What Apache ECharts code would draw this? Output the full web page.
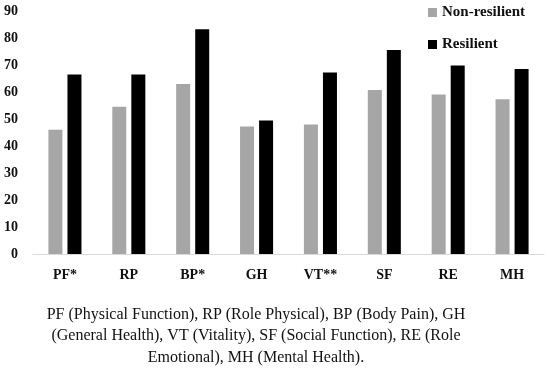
<!DOCTYPE html>
<html><head><meta charset="utf-8">
<script src="https://cdn.jsdelivr.net/npm/echarts@6/dist/echarts.min.js"></script>
<style>html,body{margin:0;padding:0;background:#fff}#c{width:550px;height:370px}</style>
</head><body><div id="c"></div>
<script>
const categories = ['PF*','RP','BP*','GH','VT**','SF','RE','MH'];
const nonResilient = [46, 54.5, 63, 47.2, 48, 60.7, 59.1, 57.3];
const resilient = [66.5, 66.5, 83.2, 49.4, 67.2, 75.6, 69.8, 68.5];
const seriesNames = ['Non-resilient','Resilient'];
const caption = 'PF (Physical Function), RP (Role Physical), BP (Body Pain), GH\n(General Health), VT (Vitality), SF (Social Function), RE (Role\nEmotional), MH (Mental Health).';
const font = '"Liberation Serif", "DejaVu Serif", serif';
const chart = echarts.init(document.getElementById('c'));
chart.setOption({
  animation:false,
  graphic:[{type:'text',x:256,y:304,style:{text:caption,textAlign:'center',textVerticalAlign:'top',
    fontFamily:font,fontSize:16,fontWeight:'normal',fill:'#111',lineHeight:21.5}}],
  legend:{orient:'vertical',left:423,top:0,itemWidth:9,itemHeight:9,itemGap:17,icon:'rect',
    textStyle:{fontFamily:font,fontWeight:'bold',fontSize:15,color:'#111'}},
  grid:{left:33,right:6,top:11,bottom:116},
  xAxis:{type:'category',data:categories,
    axisLine:{lineStyle:{color:'#d9d9d9',width:1}},axisTick:{show:false},
    axisLabel:{fontFamily:font,fontWeight:'bold',fontSize:14,color:'#111',margin:14}},
  yAxis:{type:'value',min:0,max:90,interval:10,splitLine:{show:false},
    axisLine:{show:false},axisTick:{show:false},
    axisLabel:{fontFamily:font,fontWeight:'bold',fontSize:14,color:'#111',margin:15}},
  series:[
    {name:seriesNames[0],type:'bar',data:nonResilient,barWidth:14,barGap:'36%',itemStyle:{color:'#a6a6a6'}},
    {name:seriesNames[1],type:'bar',data:resilient,barWidth:14,barGap:'36%',itemStyle:{color:'#000'}}
  ]
});
</script></body></html>
